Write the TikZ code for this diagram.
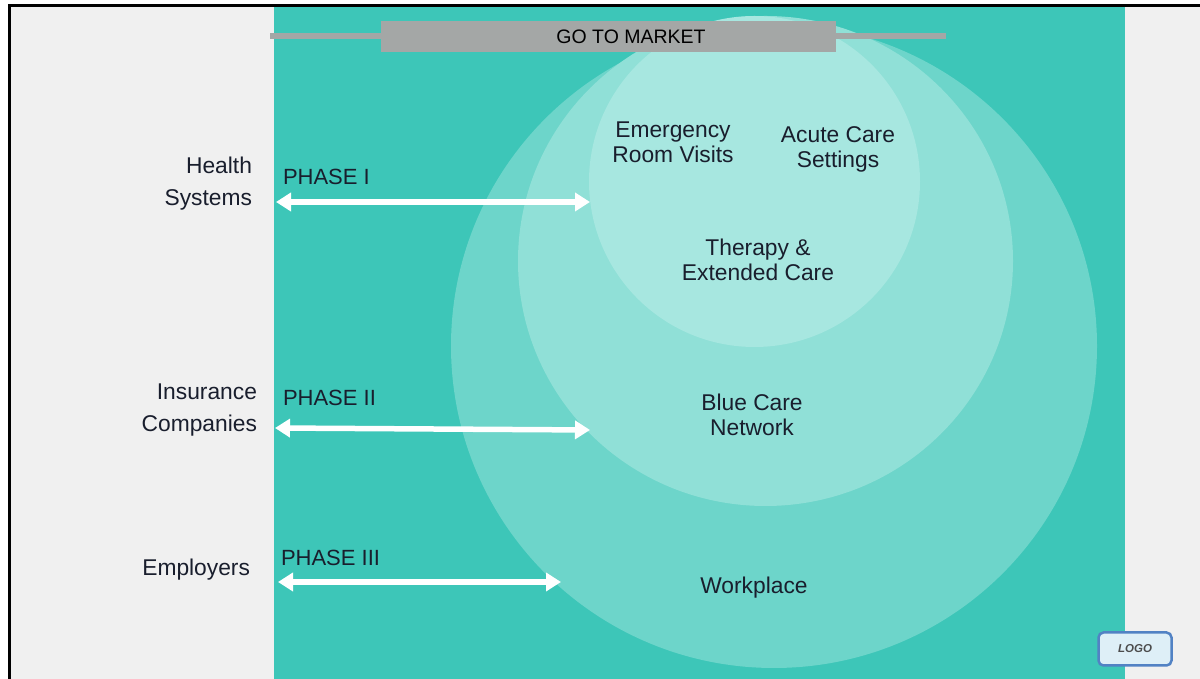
\documentclass[tikz,border=0pt]{standalone}
\usepackage{fontspec}
\setmainfont{Liberation Sans}
\usetikzlibrary{arrows.meta}
\tikzset{
  label/.style={text=labelColor,inner sep=0pt,outer sep=0pt,font=\fontsize{22.8}{25}\selectfont,align=center},
  phaselabel/.style={label,anchor=west,font=\fontsize{22}{25}\selectfont},
  phasearrow/.style={draw=white,line width=5.5pt,{Triangle[length=15pt,width=18pt]}-{Triangle[length=15pt,width=18pt]}},
}
\begin{document}
\begin{tikzpicture}[x=1pt,y=1pt]
\definecolor{paperColor}{RGB}{240,240,240}
\definecolor{tealColor}{RGB}{61,198,184}
\definecolor{outerColor}{RGB}{109,213,202}
\definecolor{middleColor}{RGB}{144,224,215}
\definecolor{innerColor}{RGB}{167,231,224}
\definecolor{barColor}{RGB}{164,167,166}
\definecolor{labelColor}{RGB}{25,30,45}
\definecolor{logoFill}{RGB}{222,239,247}
\definecolor{logoEdge}{RGB}{82,130,196}
\useasboundingbox (0,0) rectangle (1200,679);
\path[fill=white] (0,0) rectangle (1200,679);
\path[fill=paperColor] (9,0) rectangle (1200,672);
\path[fill=tealColor] (273.5,0) rectangle (1124.5,672);
\path[draw=black,line width=3pt] (9,0) -- (9,673.5) -- (1200,673.5);

% circles
\path[fill=outerColor] (774,333) ellipse (323 and 322);
\path[fill=middleColor] (765.5,418) ellipse (247.5 and 245);
\path[fill=innerColor] (754.5,497.5) circle (165.5);

% go to market
\coordinate (barLeft) at (270,643);
\coordinate (barRight) at (946,643);
\path[draw=barColor,line width=6pt] (barLeft) -- (barRight);
\node[fill=barColor,minimum width=455,minimum height=31,inner sep=0pt,outer sep=0pt,text=black,font=\fontsize{19.5}{23}\selectfont] (market) at (608.5,642) {\hspace*{45pt}GO TO MARKET};

% left column
\node[label,anchor=east,align=right] (health) at (252,495) {Health\\[7pt]Systems};
\node[label,anchor=east,align=right] (insurance) at (257,269) {Insurance\\[7pt]Companies};
\node[label,anchor=east,align=right] (employers) at (250,109) {Employers};

% phases
\node[phaselabel] (phaseOne) at (283,502.5) {PHASE I};
\node[phaselabel] (phaseTwo) at (283,281.5) {PHASE II};
\node[phaselabel] (phaseThree) at (281,121) {PHASE III};
\coordinate (oneLeft) at (276,477);
\coordinate (oneRight) at (590,477);
\coordinate (twoLeft) at (275,251);
\coordinate (twoRight) at (590,249);
\coordinate (threeLeft) at (278,97);
\coordinate (threeRight) at (561,97);
\draw[phasearrow] (oneLeft) -- (oneRight);
\draw[phasearrow] (twoLeft) -- (twoRight);
\draw[phasearrow] (threeLeft) -- (threeRight);

% circle labels
\node[label] (emergency) at (673,536.5) {Emergency\\Room Visits};
\node[label] (acute) at (838,530) {Acute  Care\\Settings};
\node[label] (therapy) at (758,419) {Therapy \&\\Extended Care};
\node[label] (blue) at (752,264) {Blue Care\\Network};
\node[label] (workplace) at (754,91) {Workplace};

% logo
\node[draw=logoEdge,fill=logoFill,line width=2.5pt,rounded corners=5pt,minimum width=73,minimum height=33,inner sep=0pt,text=black!70,font=\fontsize{11.5}{14}\selectfont\bfseries\itshape] (logo) at (1135,30) {LOGO};
\end{tikzpicture}
\end{document}
